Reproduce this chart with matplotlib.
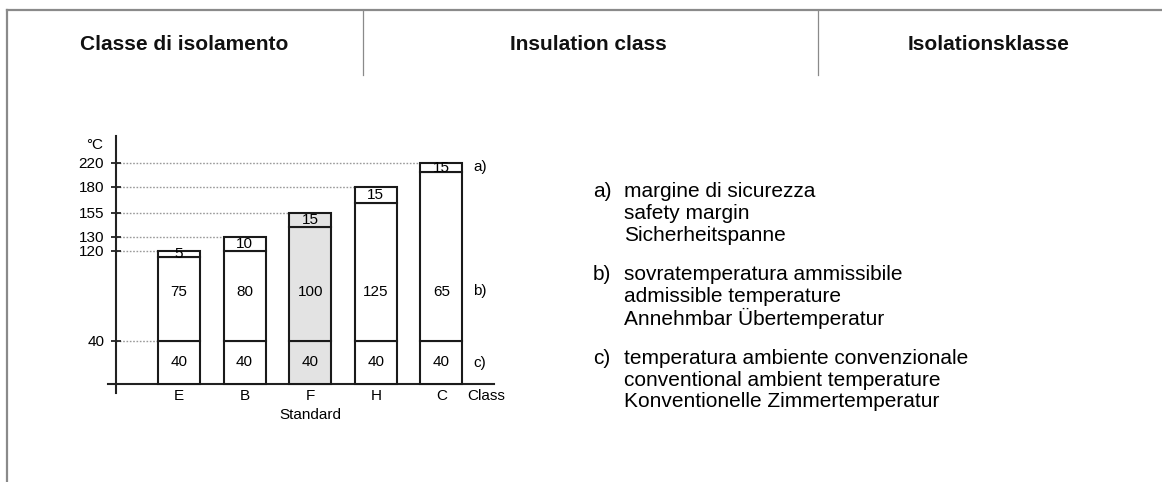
import numpy as np
import matplotlib
matplotlib.use("Agg")
import matplotlib.pyplot as plt
from matplotlib.lines import Line2D

plt.rcParams['font.family'] = ['Liberation Sans', 'DejaVu Sans']

# insulation classes and their temperature build-up (degC)
classes = ['E', 'B', 'F', 'H', 'C']
class_limit = [120, 130, 155, 180, 220]
ambient = [40, 40, 40, 40, 40]
margin = [5, 10, 15, 15, 15]
admissible_labels = ['75', '80', '100', '125', '65']
standard_class = 'F'

# temperatures marked on the vertical axis
axis_ticks = [40, 120, 130, 155, 180, 220]

headers = ['Classe di isolamento', 'Insulation class', 'Isolationsklasse']
legend_rows = [
    ('a)', ['margine di sicurezza', 'safety margin', 'Sicherheitspanne']),
    ('b)', ['sovratemperatura ammissibile', 'admissible temperature',
            'Annehmbar Übertemperatur']),
    ('c)', ['temperatura ambiente convenzionale',
            'conventional ambient temperature',
            'Konventionelle Zimmertemperatur']),
]

limit = np.array(class_limit)
amb = np.array(ambient)
mar = np.array(margin)
admissible = limit - amb - mar

W, H = 1162, 482
fig = plt.figure(figsize=(W / 100, H / 100), dpi=100)


def fx(x):
    return x / W


def fy(y):
    return 1 - y / H


# page frame and header cells
frame_col = '#8a8a8a'
fig.add_artist(Line2D([fx(6.5), 1.0], [fy(9.5), fy(9.5)], color=frame_col, lw=1.6))
fig.add_artist(Line2D([fx(6.5), fx(6.5)], [fy(9.5), 0.0], color=frame_col, lw=1.6))
for xd in (363, 818):
    fig.add_artist(Line2D([fx(xd), fx(xd)], [fy(9.5), fy(75)], color=frame_col, lw=0.9))
for xc, txt in zip((184, 588, 989), headers):
    fig.text(fx(xc), fy(44), txt, ha='center', va='center', fontsize=15,
             fontweight='bold', color='#111111')

# schematic temperature axis: the marked temperatures are spaced unevenly
knots = np.array([-100, 0] + axis_ticks + [400], dtype=float)
heights = np.array([-107, 0, 43, 133, 147, 171, 197, 221, 329], dtype=float)


def fwd(v):
    return np.interp(v, knots, heights)


def inv(p):
    return np.interp(p, heights, knots)


ax = fig.add_axes([fx(108), fy(393), fx(494 - 108), (393 - 136) / H])
ax.set_yscale('function', functions=(fwd, inv))
ax.set_xlim(-1.082, 4.802)
ax.set_ylim(inv(-9), inv(248))
ax.patch.set_visible(False)

axis_x = -0.96
for s in ('top', 'right'):
    ax.spines[s].set_visible(False)
ax.spines['left'].set_position(('data', axis_x))
ax.spines['bottom'].set_position(('data', 0))
for s in ('left', 'bottom'):
    ax.spines[s].set_linewidth(1.5)
    ax.spines[s].set_color('#222222')

ax.set_yticks(axis_ticks)
ax.set_yticklabels([str(t) for t in axis_ticks])
ax.tick_params(axis='y', direction='inout', length=7, width=1.3, pad=5,
               labelsize=11, color='#222222')
ax.yaxis.set_minor_locator(plt.NullLocator())

x = np.arange(len(classes))
class_x = 4.69
ax.set_xticks(list(x) + [class_x])
ax.set_xticklabels(classes + ['Class'])
ax.tick_params(axis='x', length=0, pad=3.5, labelsize=11)

bw = 0.64
colors = ['#e3e3e3' if c == standard_class else 'white' for c in classes]
seg_kw = dict(width=bw, edgecolor='#1a1a1a', linewidth=1.5, zorder=3)
ax.bar(x, amb, color=colors, **seg_kw)
ax.bar(x, admissible, bottom=amb, color=colors, **seg_kw)
ax.bar(x, mar, bottom=amb + admissible, color=colors, **seg_kw)

# dotted guides from the axis to the first bar reaching each level
for t in axis_ticks:
    hit = np.where(limit == t)[0]
    i = hit[0] if len(hit) else 0
    ax.plot([axis_x, x[i] - bw / 2], [t, t], color='#9a9a9a', lw=1,
            ls=(0, (1.2, 1.2)), zorder=1)

# segment values
b_row = 84
for i in range(len(classes)):
    ax.text(x[i], inv(fwd(amb[i]) / 2), str(amb[i]), ha='center', va='center',
            fontsize=11, zorder=4)
    ax.text(x[i], b_row, admissible_labels[i], ha='center', va='center',
            fontsize=11, zorder=4)
    lo, hi = amb[i] + admissible[i], limit[i]
    ax.text(x[i], inv((fwd(lo) + fwd(hi)) / 2), str(mar[i]), ha='center',
            va='center', fontsize=11, zorder=4)

# row keys to the right of the bars
last = len(classes) - 1
key_x = 4.59
lo, hi = amb[last] + admissible[last], limit[last]
ax.text(key_x, inv((fwd(lo) + fwd(hi)) / 2), 'a)', ha='center', va='center', fontsize=11)
ax.text(key_x, b_row, 'b)', ha='center', va='center', fontsize=11)
ax.text(key_x, inv(fwd(amb[last]) / 2), 'c)', ha='center', va='center', fontsize=11)

ax.annotate('Standard', xy=(classes.index(standard_class), 0), xytext=(0, -17.5),
            textcoords='offset points', ha='center', va='top', fontsize=11,
            annotation_clip=False)
fig.text(fx(95), fy(145), '°C', ha='center', va='center', fontsize=11)

# legend text block
y0 = 191.7
for key, lines in legend_rows:
    fig.text(fx(593), fy(y0), key, ha='left', va='center', fontsize=15)
    for j, line in enumerate(lines):
        fig.text(fx(624), fy(y0 + 21.7 * j), line, ha='left', va='center', fontsize=15)
    y0 += 83.3

fig.savefig('out.png', dpi=100)
